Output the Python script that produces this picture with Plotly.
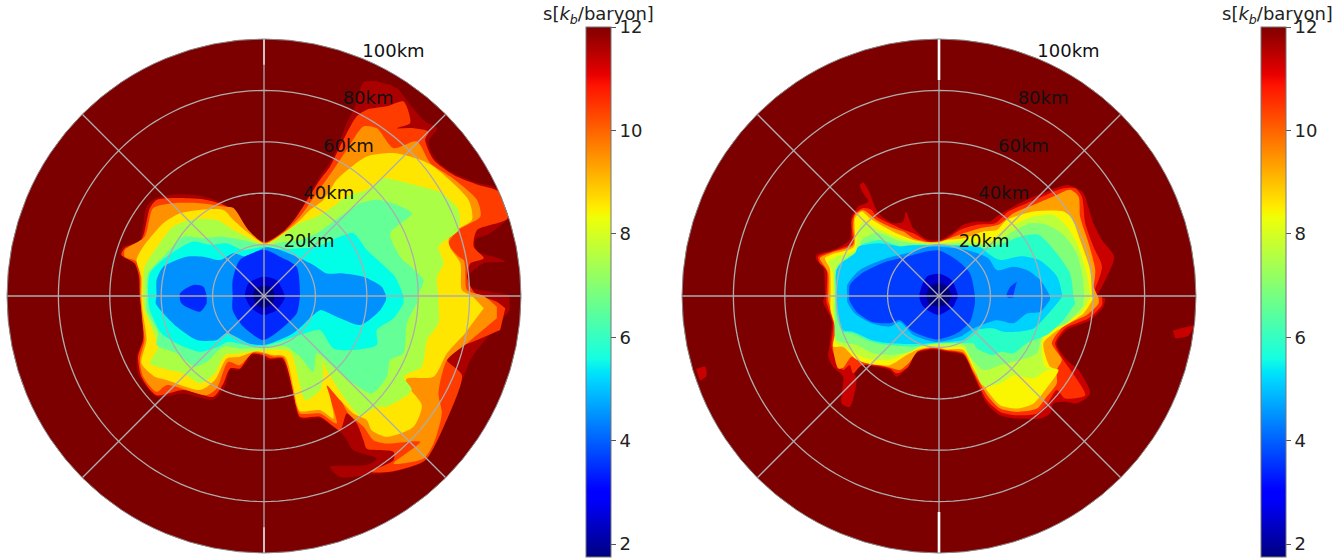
import numpy as np
import plotly.graph_objects as go

# Contour outlines of the entropy field in the meridional plane, as (x km, z km) vertices.
# Left panel, outermost to innermost level
left_c0 = [(95.6,0.4),(85.5,2.1),(79.6,3.6),(80.3,8.8),(85.5,12.7),(93.9,13.4),(89.4,15.3),(82.9,17.3),(82.2,21.8),(88.1,24.4),(95.2,30.9),(93.2,36.1),(90.6,41.9),(81.6,44.5),(72.5,48.4),(66,54.3),(64,60.1),(67.3,65.3),(62.7,67.9),(56.9,74.4),(51.7,80.9),(43.9,83.5),(38.7,83.1),(35.5,73.8),(32.2,67.3),(27,54.3),(20.5,44.5),(16.6,37.4),(10.8,28.3),(6.2,23.8),(0.4,21.2),(-4.2,23.1),(-8.1,24.4),(-11.3,32.2),(-15.8,36.1),(-24.9,39),(-34,39.6),(-41.8,38.1),(-45.7,34.8),(-48.3,21.8),(-54.8,19.2),(-56.1,16.6),(-50.9,13.4),(-49,8.8),(-48.6,0),(-47.6,-9.4),(-47.2,-17.1),(-49.6,-23.6),(-49,-30.1),(-41.8,-39.2),(-31.4,-37.9),(-19.7,-40.3),(-15.2,-35.3),(-13.2,-28.8),(-9.4,-28.8),(-4.2,-23),(-0.3,-23.6),(1,-24.9),(6.9,-24.9),(10.1,-34),(14,-47.7),(21.8,-47.7),(30.9,-54.2),(34.8,-60),(43.9,-63.2),(40,-65.8),(25.7,-66.5),(29.6,-70.4),(40,-69.7),(50.4,-68.4),(62.1,-64.5),(68.6,-53.5),(77.7,-31.4),(80.3,-24.9),(82.9,-21),(89.4,-13.2),(95.6,-5.5)]
left_c1 = [(93.9,-4.8),(90.6,-2.2),(82.2,1),(79,7.5),(80.3,12.7),(85.5,14.7),(81.6,19.2),(82.9,25.7),(94.8,30.3),(91.3,40.6),(83.5,43.2),(73.8,47.1),(66,53),(62.7,60.8),(64,64),(58.2,65.3),(51.7,65.3),(56.9,67.3),(54.3,75.7),(47.8,73.8),(40,72.5),(36.1,69.9),(29.6,58.2),(25.7,50.4),(21.8,45.2),(17.3,38.1),(12.7,30.9),(8.2,25.7),(0.4,20.9),(-6.8,24.4),(-10.6,29.6),(-14.5,34.8),(-22.3,37.4),(-32.7,38.1),(-41.8,37.4),(-44.4,34.2),(-47.7,21.8),(-54.2,18.6),(-55.5,16),(-50.3,12.7),(-48.6,7.5),(-48.3,0),(-47.2,-9.4),(-47,-17.1),(-49,-23.6),(-47.7,-31.4),(-41.8,-38.6),(-31.4,-36.6),(-19.7,-39.2),(-15.8,-34),(-13.2,-28.2),(-9.4,-28.2),(-4.8,-22.5),(-0.3,-23),(2.3,-24.3),(7.3,-24.3),(11.4,-36.6),(14,-47),(21.8,-47),(29.6,-52.2),(32.2,-45.7),(36.1,-49.6),(38.7,-56.1),(40,-59.4),(50.4,-60.6),(50.4,-63.9),(41.3,-68.4),(49.1,-68.4),(62.7,-63.9),(69.9,-50.9),(77,-30.8),(71.2,-24.9),(73.8,-21),(82.9,-17.1),(91.9,-13.2)]
left_c2 = [(90.6,-4.2),(85.5,0),(79,2.3),(78.3,11.4),(77.7,14),(75.7,15.3),(71.8,20.5),(75.7,25.7),(84.2,30.9),(82.9,37.4),(72.5,46.5),(64.7,51.7),(59.5,60.1),(50.4,57.5),(43.9,65.3),(38.7,66),(32.2,56.9),(27,49.1),(20.5,40),(14,30.9),(8.8,25.7),(0.4,20.6),(-6.1,25.7),(-11.9,34.2),(-15.8,34.8),(-24.9,36.1),(-35.3,36.1),(-43.1,34.2),(-46.4,23.1),(-54.2,17.9),(-54.2,15.3),(-49.6,13.4),(-48.1,7.5),(-48.1,0),(-47.2,-10.6),(-46.5,-17.1),(-48.3,-24.9),(-47,-31.4),(-41.8,-37.3),(-37.9,-34.7),(-22.3,-38.6),(-18.4,-36),(-13.9,-25.6),(-9.4,-26.9),(-4.2,-22),(-0.3,-22.4),(3.6,-23.6),(7.6,-23.9),(12.7,-43.1),(14,-45.7),(21.8,-45.7),(28.3,-49.6),(24.4,-34.7),(28.3,-37.9),(32.9,-45.7),(38.7,-50.9),(42.6,-56.1),(47.8,-57.4),(60.8,-56.8),(50.4,-65.2),(62.1,-63.2),(66,-57.4),(69.2,-45.7),(67.9,-37.9),(71.2,-24.9),(79,-18.4),(90.6,-8.7)]
left_c3 = [(85.5,-4.8),(80.9,0),(77,2.3),(76.4,12.7),(72.5,18.6),(71.8,21.2),(72.5,24.4),(80.9,29.6),(79.6,37.4),(66,50.4),(60.8,53),(50.4,55.6),(40,54.3),(34.2,50.4),(28.3,45.2),(23.1,37.4),(17.9,33.5),(12.7,28.3),(7.5,24.4),(0.4,20.3),(-6.8,25.1),(-11.9,29.6),(-15.8,33.5),(-24.9,33.5),(-32.7,32.2),(-39.2,28.3),(-47,19.2),(-49.6,14),(-47.7,7.5),(-47.7,0),(-47.3,-5.5),(-45.7,-17.1),(-47.7,-26.2),(-42.5,-31.4),(-37.9,-32.7),(-24.9,-36.6),(-19.1,-32.7),(-14.5,-24.3),(-9.4,-23.6),(-2.9,-21.5),(3.6,-23),(8.2,-23.6),(11.4,-35.3),(12.7,-41.8),(14,-44.8),(21.8,-44.4),(27,-47.7),(25.7,-39.2),(24.4,-34.7),(29.6,-40.5),(34.8,-45.7),(40,-48.3),(41.9,-52.2),(47.8,-54.8),(58.2,-50.9),(61.4,-42.5),(56.9,-36.6),(54.9,-35.3),(55.6,-32.1),(66,-31.4),(71.2,-22.3),(77.7,-15.2)]
left_c4 = [(67.9,0),(67.3,7.5),(69.9,12.7),(67.9,19.2),(75.7,25.7),(75.7,33.5),(69.2,40),(66,41.3),(53.6,44.5),(46.5,45.8),(40,41.3),(32.2,38.7),(27,34.8),(20.5,30.9),(12.7,27.7),(6.2,23.1),(0.4,20),(-6.8,23.1),(-11.9,25.7),(-18.4,29.6),(-28.8,29.6),(-35.3,27),(-40.5,20.5),(-46.4,11.4),(-47,0),(-46.4,-5.5),(-41.2,-19.7),(-44.4,-26.2),(-39.2,-28.2),(-31.4,-30.1),(-24.9,-34),(-19.1,-30.1),(-15.2,-23),(-9.4,-22.3),(-0.3,-21),(10.1,-21.7),(14,-34.7),(16,-40.5),(21.8,-36.6),(23.1,-28.8),(22.5,-25.6),(25.1,-30.1),(30.9,-39.2),(37.4,-46.4),(43.9,-43.1),(47.8,-43.1),(57.5,-36.6),(54.3,-31.4),(61.4,-27.5),(63.4,-17.1),(67.9,-10.6),(67.9,-4.2)]
left_c5 = [(59.5,0),(62.1,6.2),(53,15.3),(49.1,24.4),(57.5,32.2),(45.2,37.4),(37.4,36.1),(29.6,30.9),(20.5,24.4),(14,21.8),(6.2,20.8),(0.4,19.6),(-8.1,21.8),(-15.8,23.1),(-23.6,22.5),(-31.4,23.1),(-39.2,15.3),(-45.1,8.8),(-45.7,0),(-45.7,-5.5),(-41.2,-14.5),(-41.8,-19.1),(-34,-22.3),(-26.9,-27.5),(-22.3,-25.6),(-15.8,-19.7),(-9.4,-20.4),(-0.3,-20.3),(8.8,-19.7),(14,-23.6),(19.2,-29.5),(20.5,-22.3),(28.3,-28.8),(34.8,-34),(41.9,-37.9),(47.8,-31.4),(49.1,-24.9),(54.3,-22.3),(55.6,-10.6),(59.5,-2.9)]
left_c6 = [(54.3,0),(51,7.5),(47.1,11.4),(40,17.9),(34.8,24.4),(29.6,23.1),(20.5,19.2),(14,18.6),(6.2,18.2),(0.4,19.2),(-8.1,17.9),(-14.5,20.5),(-21,19.9),(-27.5,21.2),(-37.9,15.3),(-44.4,8.8),(-45.1,0),(-44.4,-5.5),(-39.9,-14.5),(-32.7,-19.1),(-24.9,-21.7),(-17.8,-19.7),(-13.9,-17.8),(-6.8,-19.1),(-0.3,-19.5),(14,-15.2),(21.8,-13.2),(27,-20.4),(34.8,-21),(43.9,-19.1),(43.9,-13.2),(50.4,-8.7),(54.3,-2.9)]
left_c7 = [(47.5,0),(45.8,3.6),(38.7,7.5),(30.9,8.8),(24.4,8.8),(19.2,12.1),(12.7,15.3),(6.2,17.9),(0.4,18.9),(-6.8,15.3),(-11.9,16.6),(-17.1,14),(-23.6,15.3),(-30.1,15.3),(-39.2,11.4),(-41.8,6.2),(-41.8,0),(-42.1,-2.9),(-34,-11.9),(-26.2,-17.1),(-18.4,-17.1),(-14.5,-14.5),(-5.5,-18.6),(0.4,-19),(11.4,-14.5),(19.2,-7.4),(21.8,-5.5),(29.6,-8.7),(37.4,-11.3),(45.2,-5.5),(47.5,-1.6)]
left_c8 = [(14,0),(12.7,11.4),(6.2,15.3),(0,18),(-9.4,14),(-12.2,6.2),(-12.2,0),(-12.2,-5.5),(-8.1,-11.9),(-0.3,-17.1),(6.2,-13.2),(12.7,-6.8),(13.8,-1.6)]
left_c8b = [(-22.3,0),(-23.6,3.6),(-27.5,4.3),(-32.7,1),(-32.1,-2.9),(-24.9,-6.1),(-22.3,-2.9)]
left_c9 = [(8.2,0),(4.9,6.2),(-0.3,7.5),(-6.1,4.9),(-7.4,0),(-4.8,-4.8),(-0.3,-7.4),(4.9,-5.5),(7.8,-1.6)]
left_c10 = [(4.3,0),(3,3.3),(0,4),(-3.5,2.8),(-4.2,0),(-3,-3.3),(0,-4.6),(3.5,-3)]

# Right panel, outermost to innermost level
right_c0 = [(61.4,0),(64.7,6.2),(68.2,15.3),(63.4,21.8),(60.1,28.3),(56.2,40),(53.6,41.9),(49.7,43.2),(41.9,40.6),(35.5,38.1),(29,34.8),(22.5,30.9),(19.9,29),(14.7,29),(9.5,27.7),(4.3,23.8),(0.4,21.8),(-4.2,21.8),(-10,26.4),(-12.9,32.9),(-13.9,29),(-17.8,28.3),(-23.6,32.2),(-27.5,41.3),(-29.5,44.2),(-30.8,43.2),(-29.5,40),(-27.5,36.8),(-31.4,34.8),(-34,30.9),(-34.7,21.8),(-41.2,17.9),(-47.7,16),(-47.7,14),(-45.1,11.4),(-44.4,4.9),(-44.4,0),(-45.1,-2.2),(-41.8,-9.4),(-42.5,-18.4),(-43.1,-23.6),(-41.2,-27.5),(-37.3,-31.4),(-37.9,-41.8),(-34.7,-43.1),(-32.1,-32.7),(-34,-26.9),(-28.2,-26.9),(-19.1,-28.8),(-16.5,-31.4),(-12.6,-28.2),(-8.7,-22.3),(-2.2,-20.8),(3,-21.7),(9.5,-23),(13.4,-30.8),(18.6,-41.8),(23.8,-46.4),(30.3,-47.7),(39.4,-47.7),(43.2,-45.7),(44.5,-41.8),(49.7,-41.2),(53.6,-41.8),(58.8,-37.9),(54.3,-28.8),(49.7,-24.9),(45.8,-18.4),(49.7,-13.2),(58.8,-9.4),(64,-4.2),(64.7,-0.9)]
right_c0b = [(91,-13.5),(99,-11.8),(97,-15.5),(92,-16.5)]
right_c0c = [(-94.5,-28.5),(-91,-27.5),(-90.5,-31),(-93,-33)]
right_c1 = [(59.5,0),(63.4,11.4),(60.1,19.2),(56.9,28.3),(55.6,38.7),(53,41.9),(48.4,41.9),(41.9,39.4),(34.2,36.1),(27,32.9),(21.8,28.3),(14.7,27.7),(8.2,25.7),(4.3,23.1),(0.4,21.4),(-4.2,21.2),(-10,24.4),(-15.2,26.4),(-24.3,30.9),(-26.2,33.5),(-29.5,34.2),(-32.7,32.2),(-34,29),(-34,20.5),(-41.8,17.3),(-47,15.3),(-46.4,12.7),(-43.8,10.1),(-43.8,0),(-43.8,-2.2),(-41.2,-10.6),(-41.8,-19.7),(-40.5,-23.6),(-37.3,-28.8),(-34.7,-26.9),(-33.4,-30.1),(-30.1,-26.9),(-19.1,-28.2),(-16.5,-30.1),(-11.9,-27.5),(-8.7,-21.7),(-2.2,-20.5),(3,-21.3),(9.5,-22.6),(13.4,-30.1),(18.6,-40.5),(23.8,-45.1),(30.3,-46.4),(38.1,-45.7),(42.6,-41.2),(45.8,-36.6),(49.1,-39.9),(56.9,-38.6),(53,-31.4),(48.4,-24.9),(45.2,-18.4),(49.1,-12.6),(58.2,-8.7),(63.4,-3.5),(63.4,-0.3)]
right_c2 = [(60.1,3.6),(60.8,10.1),(58.2,20.5),(54.9,30.9),(54.3,38.7),(51,41.3),(44.5,38.7),(36.8,35.5),(29,32.2),(23.1,27.7),(16,26.4),(9.5,24.4),(4.3,22.5),(0.4,21.2),(-4.2,21),(-10,22.5),(-13.9,25.1),(-17.8,26.4),(-24.3,29.6),(-29.5,33.5),(-32.7,31.6),(-33.4,27.7),(-33.4,19.9),(-41.8,16.9),(-46.4,14.7),(-44.4,11.4),(-43.1,8.8),(-43.1,0),(-43.1,-1.6),(-40.5,-11.9),(-41.2,-20.4),(-39.2,-28.2),(-37.3,-27.9),(-34,-23.6),(-29.5,-25.6),(-19.1,-27.8),(-15.2,-28.8),(-11.3,-25.6),(-8.1,-21.4),(-2.2,-20.1),(3,-21),(9.5,-22.1),(13.4,-29.5),(19.2,-39.2),(23.8,-43.8),(30.3,-45.1),(38.1,-43.8),(41.9,-39.2),(45.8,-34),(45.8,-28.8),(47.8,-24.9),(43.9,-18.4),(48.4,-11.9),(57.5,-7.4),(62.1,-2.9),(62.1,-0.9)]
right_c3 = [(59.5,0),(58.8,10.1),(54.9,21.8),(51.7,30.3),(48.4,32.9),(36.8,32.9),(26.4,29.6),(22.5,25.7),(17.3,25.1),(9.5,22.5),(3,21.8),(-0.3,20.8),(-4.8,20.8),(-10,21.8),(-15.2,23.8),(-20.4,26.4),(-26.9,30.3),(-30.1,32.9),(-32.7,30.3),(-33.1,19.2),(-41.2,16.4),(-44.4,14.7),(-42.5,10.8),(-42.2,0),(-42.2,-5.5),(-40.1,-13.2),(-41.2,-19.7),(-37.3,-19.7),(-32.7,-24.3),(-28.2,-26.2),(-19.1,-26.9),(-12.6,-23),(-8.7,-21),(-2.2,-19.7),(3,-20.8),(9.5,-21),(13.4,-28.2),(18.6,-36.6),(23.8,-42.5),(30.3,-43.8),(36.8,-41.8),(41.3,-36.6),(46.5,-28.8),(43.2,-27.5),(40.6,-18.4),(44.5,-14.5),(56.2,-6.8),(60.1,-0.9)]
right_c4 = [(58.8,0),(57.5,8.8),(53.6,20.5),(49.7,27),(44.5,31.6),(36.8,30.9),(30.3,28.3),(23.8,24.4),(18.6,20.5),(10.8,21.8),(3,20.8),(-0.3,20.5),(-4.8,20.5),(-10,21.2),(-16.5,22.9),(-24.3,26.4),(-29.5,29),(-31.4,25.7),(-32.7,17.9),(-39.9,15.3),(-43.1,13.4),(-41.2,8.8),(-41.2,0),(-41.2,-5.5),(-39.9,-14.5),(-40.5,-17.8),(-34.7,-21),(-28.2,-24.3),(-19.1,-24.9),(-12.6,-22.3),(-8.7,-20.4),(-2.2,-19.2),(3,-20),(9.5,-20),(13.4,-26.9),(17,-34.7),(23.8,-34),(29,-30.8),(36.8,-32.1),(41.9,-28.8),(45.8,-28.6),(41.3,-27.5),(40,-19.7),(41.9,-13.2),(54.9,-6.8),(58.8,-0.3)]
right_c5 = [(56.5,0),(55.9,7.5),(53.6,16.6),(48.4,23.8),(41.9,27.7),(35.5,28.3),(27.7,24.4),(22.5,21.2),(17.9,19.9),(10.8,20.5),(0.4,20.3),(-4.2,20.3),(-10,20.5),(-16.5,21.8),(-24.3,24.7),(-30.1,21.8),(-31.4,17.9),(-37.3,14),(-40.5,10.1),(-40.5,0),(-40.5,-5.5),(-39.9,-17.1),(-32.1,-19.1),(-25.6,-22.3),(-18.4,-23),(-11.3,-21.7),(-7.4,-19.7),(-2.2,-18.8),(9.5,-19.1),(12.1,-23.6),(17.3,-28.8),(23.8,-26.9),(31.6,-24.9),(38.1,-22.3),(40.6,-14.5),(49.7,-10.6),(55.9,-4.2)]
right_c6 = [(52.3,0),(51,8.8),(45.8,16.6),(38.7,23.8),(31.6,23.1),(25.1,20.5),(18.6,18.6),(13.4,19.5),(6.9,19.5),(-0.3,19.9),(-3.5,19.9),(-10,19.9),(-15.2,19.5),(-23,21.8),(-30.1,19.9),(-32.1,16),(-38.6,12.7),(-40.1,8.8),(-40.1,0),(-40.1,-6.8),(-37.5,-13.9),(-33.4,-14.5),(-26.2,-17.8),(-19.1,-19.1),(-10,-19.7),(-0.9,-18.4),(9.5,-18.4),(13.4,-18.4),(14.7,-20.4),(21.2,-23),(23.8,-21.7),(29,-22.3),(34.2,-18.4),(41.9,-15.2),(48.4,-9.4),(53,-2.9)]
right_c7 = [(48,0),(46,7.5),(39,14),(32,15.5),(23.8,14),(19.9,16),(16,19),(10.8,19.5),(-0.3,19.7),(-10,19.7),(-15.2,19.3),(-23,20.5),(-31.4,19.2),(-32.7,16.6),(-37.3,13.4),(-39.9,10.1),(-39.9,0),(-39.6,-5.5),(-37.5,-13.2),(-33.4,-13.9),(-26.2,-17.1),(-19.1,-18.4),(-8.7,-18.7),(-0.9,-18.2),(9.5,-17.1),(14.7,-13.2),(21.2,-12.6),(25.1,-13.9),(30.3,-13.9),(36.8,-12.6),(42.6,-6.8),(46.5,-2.2)]
right_c8 = [(43.2,0),(39.4,6.2),(34.2,10.1),(29,11.4),(22.5,10.1),(19.2,14.7),(10.8,17.9),(0.4,19.2),(-4.8,19),(-12.6,16.6),(-20.4,14.7),(-30.8,10.1),(-35.7,4.3),(-35.7,0),(-35.7,-2.2),(-32.7,-6.8),(-26.2,-10.6),(-19.1,-11.9),(-15.2,-10),(-10,-15.2),(-0.9,-17.9),(8.2,-15.9),(13.4,-12.6),(22.5,-9.4),(29,-10.6),(34.2,-6.8),(39.4,-6.1),(43.2,-1.6)]
right_c9 = [(14,0),(12.1,8.8),(6.9,14),(0,17.7),(-4.8,17.3),(-12.6,15.3),(-20.4,13.4),(-30.1,8.8),(-34.7,4.3),(-34.9,0),(-34.9,-1.6),(-32.1,-6.1),(-26.2,-10),(-19.1,-10.6),(-15.2,-9.4),(-10,-13.9),(-0.9,-16.9),(6.9,-14.5),(12.1,-10),(14,-2.9)]
right_c9b = [(30.3,5.6),(29,0.4),(29,-0.5),(26.4,-0.5),(26.4,1),(27.7,3.6)]
right_c10 = [(7.5,0),(4.9,6.2),(0.4,8.6),(-4.8,7.5),(-7.7,0),(-6.1,-4.2),(-0.3,-7.4),(5.6,-4.2)]
right_c11 = [(5,0),(3.3,3.6),(0,5),(-3.6,3.6),(-5,0),(-3.5,-3.3),(0,-4.2),(3.5,-3)]

left_levels = [
    (left_c0, "#aa0000"), (left_c1, "#ff3c00"), (left_c2, "#ff9100"), (left_c3, "#ffe600"),
    (left_c4, "#aaff46"), (left_c5, "#64ff96"), (left_c6, "#00ffe6"), (left_c7, "#0091ff"),
    (left_c8, "#0028ff"), (left_c8b, "#0028ff"), (left_c9, "#0000cd"), (left_c10, "#000078"),
]
right_levels = [
    (right_c0, "#c80000"), (right_c0b, "#c80000"), (right_c0c, "#c80000"), (right_c1, "#ff3000"),
    (right_c2, "#ffa000"), (right_c3, "#faf500"), (right_c4, "#beff3c"), (right_c5, "#82ff78"),
    (right_c6, "#28ffc8"), (right_c7, "#00d2ff"), (right_c8, "#008cff"), (right_c9, "#003cff"),
    (right_c9b, "#003cff"), (right_c10, "#0000cd"), (right_c11, "#000078"),
]

ring_radii = [20, 40, 60, 80, 100]
ring_labels = ["20km", "40km", "60km", "80km", "100km"]
spoke_angles = [0, 45, 90, 135, 180, 225, 270, 315]
label_angle = 67.5
label_drop_km = 1.1
cbar_ticks = [2, 4, 6, 8, 10, 12]
s_min, s_max = 1.75, 12
jet = [[0, "rgb(0,0,128)"], [.11, "rgb(0,0,255)"], [.125, "rgb(0,0,255)"], [.34, "rgb(0,219,255)"],
       [.35, "rgb(0,230,247)"], [.375, "rgb(21,255,226)"], [.64, "rgb(238,255,8)"], [.65, "rgb(247,246,0)"],
       [.66, "rgb(255,236,0)"], [.89, "rgb(255,19,0)"], [.91, "rgb(232,0,0)"], [1, "rgb(128,0,0)"]]

W, H = 1341, 559
GRID = "#adadad"
fig = go.Figure()


def add_panel(levels, sub, cbar_x, white_from, white_width, white_color):
    for pts, color in levels:
        a = np.array(pts)
        r = np.hypot(a[:, 0], a[:, 1])
        th = np.degrees(np.arctan2(a[:, 1], a[:, 0]))
        fig.add_trace(go.Scatterpolar(r=r, theta=th, mode="lines", fill="toself", fillcolor=color,
                                      line=dict(width=0, color=color, shape="spline", smoothing=0.7),
                                      subplot=sub, showlegend=False, hoverinfo="skip"))
    circle = np.arange(0, 361, 2)
    for rr in ring_radii[:-1]:
        fig.add_trace(go.Scatterpolar(r=[rr] * len(circle), theta=circle, mode="lines",
                                      line=dict(color=GRID, width=1.3), subplot=sub, showlegend=False,
                                      hoverinfo="skip"))
    for ang in spoke_angles:
        fig.add_trace(go.Scatterpolar(r=[0, 100], theta=[ang, ang], mode="lines",
                                      line=dict(color=GRID, width=1.3), subplot=sub, showlegend=False,
                                      hoverinfo="skip"))
    for ang in (90, 270):
        fig.add_trace(go.Scatterpolar(r=[white_from, 100], theta=[ang, ang], mode="lines",
                                      line=dict(color=white_color, width=white_width), subplot=sub,
                                      showlegend=False, hoverinfo="skip"))
    rr = np.array(ring_radii, dtype=float)
    lx = rr * np.cos(np.radians(label_angle))
    ly = rr * np.sin(np.radians(label_angle)) - label_drop_km
    fig.add_trace(go.Scatterpolar(r=np.hypot(lx, ly), theta=np.degrees(np.arctan2(ly, lx)), text=ring_labels,
                                  mode="text", textposition="top right", cliponaxis=False,
                                  textfont=dict(size=18, color="#111111", family="DejaVu Sans"),
                                  subplot=sub, showlegend=False, hoverinfo="skip"))
    fig.add_trace(go.Scatterpolar(r=[0, 0], theta=[0, 0], mode="markers", subplot=sub, showlegend=False,
                                  hoverinfo="skip",
                                  marker=dict(size=1, opacity=0, color=[s_min, s_max], cmin=s_min, cmax=s_max,
                                              colorscale=jet, showscale=True,
                                              colorbar=dict(x=cbar_x / W, xanchor="left", y=1 - 27 / H,
                                                            yanchor="top", len=530, lenmode="pixels",
                                                            thickness=25, thicknessmode="pixels", xpad=0, ypad=0,
                                                            outlinecolor="#777777", outlinewidth=1,
                                                            tickvals=cbar_ticks, ticks="outside", ticklen=5,
                                                            tickcolor="#555555", tickwidth=1,
                                                            tickfont=dict(size=18, color="#222222",
                                                                          family="DejaVu Sans"))))
                  )


add_panel(left_levels, "polar", 586, 90, 1.6, "#d8d8d8")
add_panel(right_levels, "polar2", 1261, 84, 2.6, "#ffffff")


def polar_axes(x0, x1, y0, y1):
    return dict(
        domain=dict(x=[x0 / W, x1 / W], y=[1 - y1 / H, 1 - y0 / H]),
        bgcolor="#7d0000",
        radialaxis=dict(range=[0, 100], showticklabels=False, ticks="", showgrid=False, showline=False),
        angularaxis=dict(showticklabels=False, ticks="", showgrid=False, showline=True,
                         linecolor="#888888", linewidth=1, rotation=0, direction="counterclockwise"),
    )


title = "s[<i>k<sub>b</sub></i>/baryon]"
fig.update_layout(
    width=W, height=H, margin=dict(l=0, r=0, t=0, b=0), paper_bgcolor="white", showlegend=False,
    font=dict(family="DejaVu Sans"),
    polar=polar_axes(7, 521, 39, 553),
    polar2=polar_axes(682, 1196, 39, 553),
    annotations=[
        dict(text=title, x=598 / W, y=1 - 15 / H, xref="paper", yref="paper", showarrow=False,
             xanchor="center", yanchor="middle", font=dict(size=18, color="#222222")),
        dict(text=title, x=1277 / W, y=1 - 15 / H, xref="paper", yref="paper", showarrow=False,
             xanchor="center", yanchor="middle", font=dict(size=18, color="#222222")),
    ],
)

fig.write_html("out.html", config=dict(displayModeBar=False),
               post_script="document.body.style.margin='0';document.body.style.overflow='hidden';")
